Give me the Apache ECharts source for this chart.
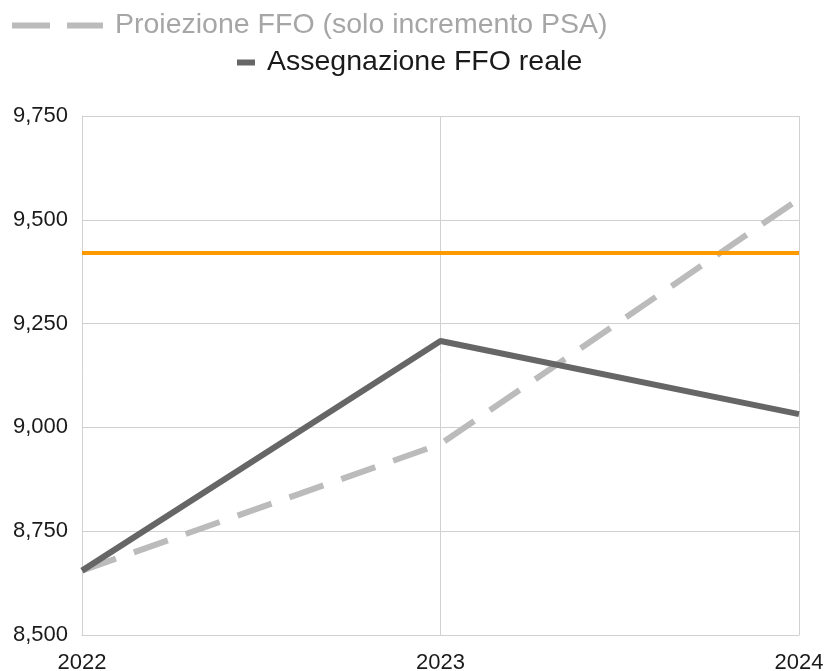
<!DOCTYPE html>
<html>
<head>
<meta charset="utf-8">
<script src="https://cdn.jsdelivr.net/npm/echarts@6/dist/echarts.min.js"></script>
<style>
  html, body { margin: 0; padding: 0; background: #fff; }
  #chart { width: 825px; height: 671px; }
</style>
</head>
<body>
<div id="chart"></div>
<script>
const anni = ["2022", "2023", "2024"];
const proiezione = [8655, 8960, 9550];
const reale = [8655, 9208, 9032];
const soglia = [9420, 9420, 9420];

const chart = echarts.init(document.getElementById("chart"));
const font = "Liberation Sans, Arial, sans-serif";

chart.setOption({
  animation: false,
  legend: [
    {
      data: [
        {
          name: "Proiezione FFO (solo incremento PSA)",
          icon: "path://M0,0h38v6h-38z M55,0h36v6h-36z",
          itemStyle: { color: "#bbbbbb" },
        },
      ],
      left: 12,
      top: 11,
      padding: 0,
      itemWidth: 91,
      itemHeight: 6,
      textStyle: {
        fontFamily: font,
        fontSize: 28.5,
        color: "#a6a6a6",
        padding: [0, 0, 0, 7],
      },
    },
    {
      data: [
        {
          name: "Assegnazione FFO reale",
          icon: "rect",
          itemStyle: { color: "#666666" },
        },
      ],
      left: 237,
      top: 48,
      padding: 0,
      itemWidth: 18,
      itemHeight: 6,
      textStyle: {
        fontFamily: font,
        fontSize: 28.5,
        color: "#1a1a1a",
        padding: [0, 0, 0, 7],
      },
    },
  ],
  grid: { left: 82, right: 26, top: 116, bottom: 36, outerBoundsMode: "none" },
  xAxis: {
    type: "category",
    data: anni,
    boundaryGap: false,
    axisLine: { lineStyle: { color: "#d0d0d0" } },
    axisTick: { show: false },
    splitLine: { show: true, lineStyle: { color: "#d0d0d0" } },
    axisLabel: { fontFamily: font, fontSize: 22, color: "#1a1a1a", margin: 17 },
  },
  yAxis: {
    type: "value",
    min: 8500,
    max: 9750,
    interval: 250,
    axisLine: { show: true, lineStyle: { color: "#d0d0d0" } },
    splitLine: { lineStyle: { color: "#d0d0d0" } },
    axisLabel: {
      fontFamily: font,
      fontSize: 22,
      color: "#1a1a1a",
      margin: 14,
      formatter: (v) => v.toLocaleString("en-US"),
    },
  },
  series: [
    {
      name: "Proiezione FFO (solo incremento PSA)",
      type: "line",
      data: proiezione,
      symbol: "none",
      itemStyle: { color: "#bbbbbb" },
      lineStyle: { color: "#bbbbbb", width: 6, type: [36, 19] },
    },
    {
      name: "Assegnazione FFO reale",
      type: "line",
      data: reale,
      symbol: "none",
      itemStyle: { color: "#666666" },
      lineStyle: { color: "#666666", width: 6 },
    },
    {
      name: "Soglia",
      type: "line",
      data: soglia,
      symbol: "none",
      itemStyle: { color: "#ff9900" },
      lineStyle: { color: "#ff9900", width: 4 },
    },
  ],
});
</script>
</body>
</html>
